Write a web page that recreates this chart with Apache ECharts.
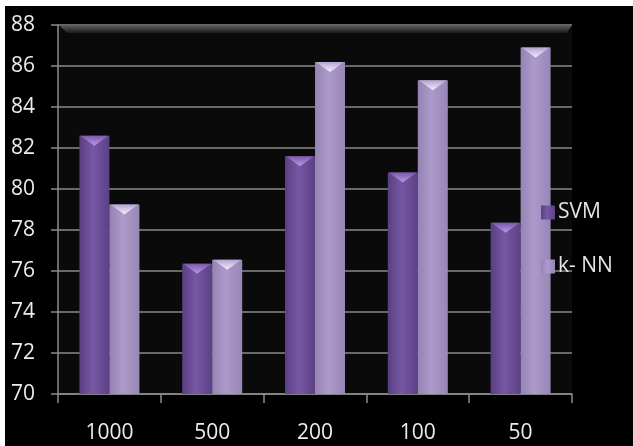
<!DOCTYPE html>
<html>
<head>
<meta charset="utf-8">
<script src="https://cdn.jsdelivr.net/npm/echarts@6/dist/echarts.min.js"></script>
<style>
  html, body { margin: 0; padding: 0; background: #ffffff; }
  #chart { position: absolute; left: 5px; top: 6px; width: 628px; height: 440px; background: #000000; }
</style>
</head>
<body>
<div id="chart"></div>
<script>
const categories = ['1000', '500', '200', '100', '50'];
const svmValues = [82.6, 76.35, 81.6, 80.8, 78.35];
const knnValues = [79.25, 76.55, 86.2, 85.3, 86.9];
const seriesNames = ['SVM', 'k- NN'];
const yTicks = { min: 70, max: 88, interval: 2 };

const FONT = '"Open Sans", Lato, sans-serif';
const svmGrad = new echarts.graphic.LinearGradient(0, 0, 1, 0, [
  { offset: 0, color: '#5a3f82' },
  { offset: 0.45, color: '#7657a3' },
  { offset: 1, color: '#5c4186' }
]);
const knnGrad = new echarts.graphic.LinearGradient(0, 0, 1, 0, [
  { offset: 0, color: '#9583b3' },
  { offset: 0.45, color: '#ac9bca' },
  { offset: 1, color: '#9887b6' }
]);
const svmCap = new echarts.graphic.LinearGradient(0, 0, 0, 1, [
  { offset: 0, color: '#c095f0' },
  { offset: 1, color: '#7a5aa8' }
]);
const knnCap = new echarts.graphic.LinearGradient(0, 0, 0, 1, [
  { offset: 0, color: '#f6eeff' },
  { offset: 1, color: '#b3a3d0' }
]);

const chart = echarts.init(document.getElementById('chart'), null, { renderer: 'canvas' });
const BW = 30;
chart.setOption({
  backgroundColor: '#000000',
  animation: false,
  grid: {
    left: 53, right: 61, top: 19, bottom: 52,
    show: true, backgroundColor: '#0a0a0a', borderWidth: 0
  },
  graphic: [{
    type: 'polygon',
    z: 1,
    silent: true,
    shape: { points: [[54, 19], [567, 19], [562, 27], [62, 27]] },
    style: {
      fill: new echarts.graphic.LinearGradient(0, 0, 0, 1, [
        { offset: 0, color: '#606060' },
        { offset: 1, color: '#1a1a1a' }
      ])
    }
  }],
  legend: {
    data: seriesNames,
    orient: 'vertical',
    left: 531, top: 191,
    itemWidth: 14, itemHeight: 14, itemGap: 33,
    icon: 'rect',
    textStyle: { color: '#e4e4e4', fontSize: 21, fontFamily: FONT, padding: [0, 0, 0, -2] }
  },
  xAxis: {
    type: 'category',
    data: categories,
    axisLine: { show: true, lineStyle: { color: '#8c8c8c', width: 1.5 } },
    axisTick: { show: true, length: 9, lineStyle: { color: '#8c8c8c', width: 1.5 } },
    axisLabel: { color: '#ececec', fontSize: 21, fontFamily: FONT, margin: 29 },
    splitLine: { show: false }
  },
  yAxis: {
    type: 'value',
    min: yTicks.min, max: yTicks.max, interval: yTicks.interval,
    axisLine: { show: true, lineStyle: { color: '#8c8c8c', width: 1.5 } },
    axisTick: { show: true, length: 7, lineStyle: { color: '#8c8c8c', width: 1.5 } },
    axisLabel: { color: '#ececec', fontSize: 21, fontFamily: FONT, margin: 23 },
    splitLine: { show: true, lineStyle: { color: '#8a8a8a', width: 1.5 } }
  },
  series: [
    {
      name: seriesNames[0], type: 'bar', data: svmValues,
      barWidth: BW, barGap: '0%', z: 3,
      itemStyle: { color: svmGrad }
    },
    {
      name: seriesNames[1], type: 'bar', data: knnValues,
      barWidth: BW, barGap: '0%', z: 3,
      itemStyle: { color: knnGrad }
    },
    {
      name: 'svmCap', type: 'pictorialBar', data: svmValues,
      barWidth: BW, barGap: '0%', z: 4,
      symbol: 'triangle', symbolRotate: 180, symbolSize: [28, 10],
      symbolPosition: 'end', symbolOffset: [0, 0],
      itemStyle: { color: svmCap }
    },
    {
      name: 'knnCap', type: 'pictorialBar', data: knnValues,
      barWidth: BW, barGap: '0%', z: 4,
      symbol: 'triangle', symbolRotate: 180, symbolSize: [28, 10],
      symbolPosition: 'end', symbolOffset: [0, 0],
      itemStyle: { color: knnCap }
    }
  ]
});
</script>
</body>
</html>
